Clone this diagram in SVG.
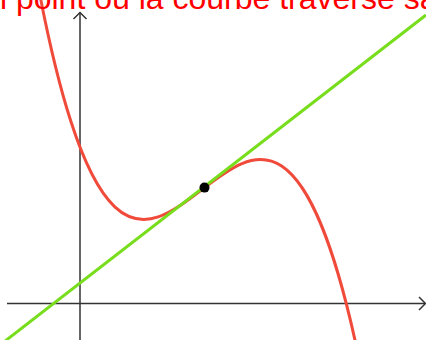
<svg xmlns="http://www.w3.org/2000/svg" width="426" height="340" viewBox="0 0 426 340">
  <style>
    .axis { stroke: #333333; stroke-width: 1.5; fill: none; }
    .title { font-family: "Liberation Sans", Arial, sans-serif; font-size: 32px; fill: #ff0000; }
  </style>
  <rect width="426" height="340" fill="#ffffff"/>
  <g id="axes">
    <line class="axis" x1="7" y1="303.5" x2="425" y2="303.5"/>
    <polyline class="axis" points="419,297 425.5,303.5 419,310"/>
    <line class="axis" x1="80" y1="340" x2="80" y2="12.5"/>
    <polyline class="axis" points="73.5,19 80,12.5 86.5,19"/>
  </g>
  <g id="curve">
    <path d="M27,-77.35 C138.67,605.2 250.33,-183.25 362,373.25" fill="none" stroke="#f04a3a" stroke-width="3"/>
  </g>
  <g id="tangent">
    <line x1="0" y1="345" x2="426" y2="15" stroke="#77dd1c" stroke-width="3"/>
  </g>
  <g id="point">
    <circle cx="204.5" cy="187.6" r="5" fill="#000000"/>
  </g>
  <text class="title" x="-28.6" y="8.5">un point où la courbe traverse sa tangente</text>
</svg>
